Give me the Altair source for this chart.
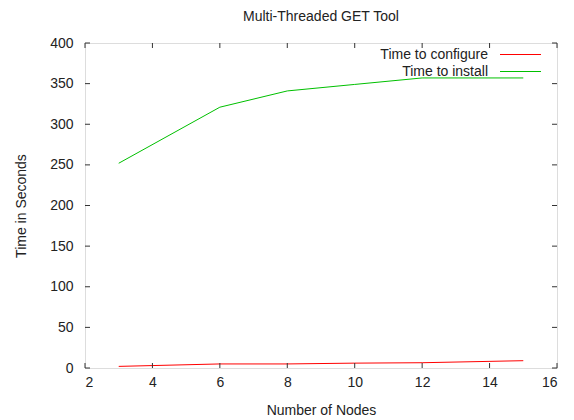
import altair as alt
import pandas as pd

nodes = [3, 6, 8, 10, 12, 15]
configure = [2, 5, 5, 6, 6.5, 9]
install = [252, 321, 341, 349, 357, 357]
series_names = ["Time to configure", "Time to install"]
series_colors = ["#ff0000", "#00c000"]
x_ticks = [2, 4, 6, 8, 10, 12, 14, 16]
y_ticks = [0, 50, 100, 150, 200, 250, 300, 350, 400]

W, H = 472, 325
FONT = "Liberation Sans"
FS = 14
TXT = "#222222"

df = pd.DataFrame({
    "nodes": nodes * 2,
    "time": configure + install,
    "series": [series_names[0]] * len(nodes) + [series_names[1]] * len(nodes),
})
xt = pd.DataFrame({"v": x_ticks})
yt = pd.DataFrame({"v": y_ticks})

xscale = alt.Scale(domain=[2, 16], nice=False, zero=False)
yscale = alt.Scale(domain=[0, 400], nice=False)
cscale = alt.Scale(domain=series_names, range=series_colors)

lines = alt.Chart(df).mark_line(strokeWidth=1, clip=True).encode(
    x=alt.X("nodes:Q", scale=xscale,
            axis=alt.Axis(values=x_ticks, ticks=False, domain=False, grid=False,
                          labelPadding=7, labelFontSize=FS, labelFont=FONT, labelColor=TXT,
                          title="Number of Nodes", titleFont=FONT, titleFontSize=FS,
                          titleFontWeight="normal", titleColor=TXT,
                          titleY=42, titleBaseline="middle")),
    y=alt.Y("time:Q", scale=yscale,
            axis=alt.Axis(values=y_ticks, ticks=False, domain=False, grid=False,
                          labelPadding=12, labelFontSize=FS, labelFont=FONT, labelColor=TXT,
                          title="Time in Seconds", titleFont=FONT, titleFontSize=FS,
                          titleFontWeight="normal", titleColor=TXT,
                          titleX=-64, titleBaseline="middle")),
    color=alt.Color("series:N", scale=cscale, legend=None),
)

tk = 5
xb = alt.Chart(xt).mark_rule(color="#333333", strokeWidth=1).encode(
    x=alt.X("v:Q", scale=xscale), y=alt.value(H), y2=alt.value(H - tk))
xtp = alt.Chart(xt).mark_rule(color="#333333", strokeWidth=1).encode(
    x=alt.X("v:Q", scale=xscale), y=alt.value(0), y2=alt.value(tk))
yl = alt.Chart(yt).mark_rule(color="#333333", strokeWidth=1).encode(
    y=alt.Y("v:Q", scale=yscale), x=alt.value(0), x2=alt.value(tk))
yr = alt.Chart(yt).mark_rule(color="#333333", strokeWidth=1).encode(
    y=alt.Y("v:Q", scale=yscale), x=alt.value(W), x2=alt.value(W - tk))

leg_rows = [11.5, 28.5]
legend_layers = []
for name, col, ly in zip(series_names, series_colors, leg_rows):
    ld = pd.DataFrame({"series": [name]})
    legend_layers.append(
        alt.Chart(ld).mark_text(align="right", baseline="middle", font=FONT,
                                fontSize=FS, color=TXT).encode(
            text="series:N", x=alt.value(403), y=alt.value(ly)))
    legend_layers.append(
        alt.Chart(ld).mark_rule(strokeWidth=1, color=col, stroke=col, opacity=1).encode(
            x=alt.value(415), x2=alt.value(456), y=alt.value(ly)))

chart = alt.layer(lines, xb, xtp, yl, yr, *legend_layers).properties(
    width=W, height=H,
    title=alt.TitleParams("Multi-Threaded GET Tool", font=FONT, fontSize=FS,
                          fontWeight="normal", color=TXT, anchor="middle", offset=12),
    autosize=alt.AutoSizeParams(type="none"),
    padding={"left": 77, "top": 35, "right": 9, "bottom": 50},
).configure_view(stroke="#333333", strokeWidth=1).configure(background="white")

chart.save("out.html", embed_options={"renderer": "svg", "actions": False})
